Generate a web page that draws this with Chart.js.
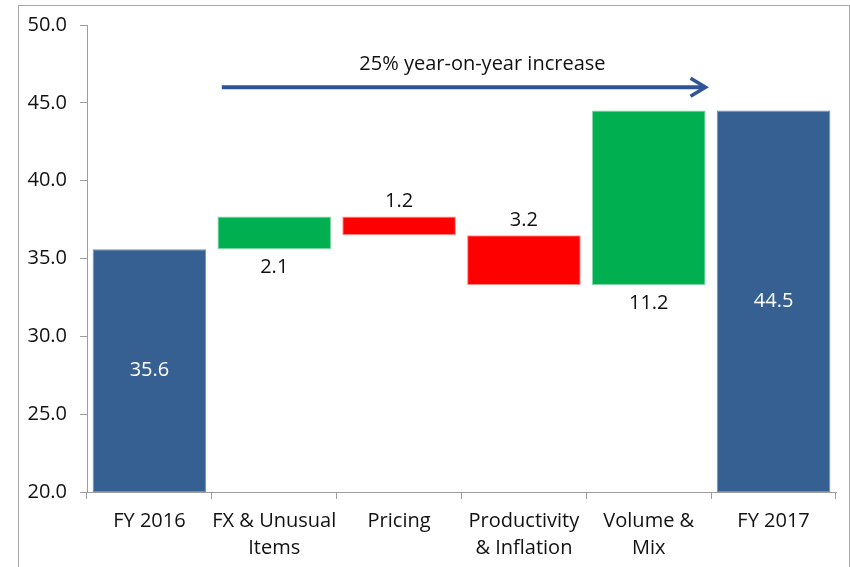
<!DOCTYPE html>
<html>
<head>
<meta charset="utf-8">
<script src="https://cdn.jsdelivr.net/npm/chart.js@4.4.1/dist/chart.umd.min.js"></script>
<style>
  html, body { margin: 0; padding: 0; background: #fff; }
  #wrap { width: 850px; height: 567px; position: relative; }
</style>
</head>
<body>
<div id="wrap"><canvas id="myChart" width="850" height="567"></canvas></div>
<script>
// chart data
var categories = [
    'FY 2016',
    ['FX & Unusual', 'Items'],
    'Pricing',
    ['Productivity', '& Inflation'],
    ['Volume &', 'Mix'],
    'FY 2017'
];
var values = [35.6, 2.1, -1.2, -3.2, 11.2, 44.5];
var isTotal = [true, false, false, false, false, true];
var yMin = 20.0;
var yMax = 50.0;
var yStep = 5.0;
var arrowText = '25% year-on-year increase';

var BLUE = '#376092';
var GREEN = '#00B050';
var RED = '#FF0000';
var FONT = '"Open Sans", "DejaVu Sans", sans-serif';
var TEXT = '#111111';

// floating ranges for the waterfall
var ranges = [];
var colors = [];
var borders = [];
var running = 0;
for (var i = 0; i < values.length; i++) {
    if (isTotal[i]) {
        ranges.push([yMin, values[i]]);
        running = values[i];
        colors.push(BLUE);
        borders.push('#6f8fba');
    } else {
        var next = Math.round((running + values[i]) * 10) / 10;
        ranges.push([running, next]);
        running = next;
        colors.push(values[i] >= 0 ? GREEN : RED);
        borders.push(values[i] >= 0 ? '#7dd8a5' : '#ff8a8a');
    }
}

var framePlugin = {
    id: 'frame',
    beforeDraw: function (chart) {
        var ctx = chart.ctx;
        ctx.save();
        ctx.strokeStyle = '#a8a8a8';
        ctx.lineWidth = 1;
        ctx.strokeRect(18.5, 5.5, 831, 600);
        ctx.restore();
    }
};

var labelPlugin = {
    id: 'wfLabels',
    afterDatasetsDraw: function (chart) {
        var ctx = chart.ctx;
        var meta = chart.getDatasetMeta(0);
        var y = chart.scales.y;
        ctx.save();
        ctx.font = '20px ' + FONT;
        ctx.textAlign = 'center';
        ctx.textBaseline = 'middle';
        meta.data.forEach(function (bar, i) {
            var r = ranges[i];
            var top = y.getPixelForValue(Math.max(r[0], r[1]));
            var bottom = y.getPixelForValue(Math.min(r[0], r[1]));
            var txt = Math.abs(values[i]).toFixed(1);
            if (isTotal[i]) {
                ctx.fillStyle = '#ffffff';
                ctx.fillText(txt, bar.x, (top + bottom) / 2);
            } else if (values[i] >= 0) {
                ctx.fillStyle = TEXT;
                ctx.fillText(txt, bar.x, bottom + 18);
            } else {
                ctx.fillStyle = TEXT;
                ctx.fillText(txt, bar.x, top - 15);
            }
        });

        // arrow annotation
        var x = chart.scales.x;
        var cw = x.getPixelForValue(1) - x.getPixelForValue(0);
        var x1 = x.getPixelForValue(1) - 0.42 * cw;
        var x2 = x.getPixelForValue(5) - 0.545 * cw;
        var ay = y.getPixelForValue(46);
        ctx.strokeStyle = '#2F5597';
        ctx.lineWidth = 4;
        ctx.lineCap = 'butt';
        ctx.beginPath();
        ctx.moveTo(x1, ay);
        ctx.lineTo(x2 - 2, ay);
        ctx.stroke();
        ctx.lineWidth = 3.5;
        ctx.lineJoin = 'miter';
        ctx.beginPath();
        ctx.moveTo(x2 - 15, ay - 9);
        ctx.lineTo(x2, ay);
        ctx.lineTo(x2 - 15, ay + 9);
        ctx.stroke();

        ctx.fillStyle = TEXT;
        ctx.fillText(arrowText, (x1 + x2) / 2 + 0.15 * cw, y.getPixelForValue(47.5));
        ctx.restore();
    }
};

window.onload = function () {
    var ctx = document.getElementById('myChart').getContext('2d');
    var myChart = new Chart(ctx, {
        type: 'bar',
        data: {
            labels: categories,
            datasets: [{
                data: ranges,
                backgroundColor: colors,
                borderColor: borders,
                borderWidth: 1,
                borderSkipped: false,
                categoryPercentage: 1.0,
                barPercentage: 0.91
            }]
        },
        options: {
            responsive: false,
            animation: false,
            layout: {
                padding: { top: 15, right: 14, bottom: 0, left: 0 }
            },
            plugins: {
                legend: { display: false },
                tooltip: { enabled: false }
            },
            scales: {
                x: {
                    afterFit: function (scale) { scale.height = 75; },
                    grid: {
                        offset: true,
                        drawOnChartArea: false,
                        tickLength: 7,
                        color: '#9d9d9d'
                    },
                    border: { color: '#9d9d9d' },
                    ticks: {
                        color: TEXT,
                        padding: 9,
                        maxRotation: 0,
                        autoSkip: false,
                        font: { family: FONT, size: 20, lineHeight: 1.35 }
                    }
                },
                y: {
                    min: yMin,
                    max: yMax,
                    afterFit: function (scale) { scale.width = 87; },
                    grid: {
                        drawOnChartArea: false,
                        tickLength: 7,
                        color: '#9d9d9d'
                    },
                    border: { color: '#9d9d9d' },
                    ticks: {
                        stepSize: yStep,
                        color: TEXT,
                        padding: 13,
                        font: { family: FONT, size: 20 },
                        callback: function (v) { return Number(v).toFixed(1); }
                    }
                }
            }
        },
        plugins: [framePlugin, labelPlugin]
    });
};
</script>
</body>
</html>
